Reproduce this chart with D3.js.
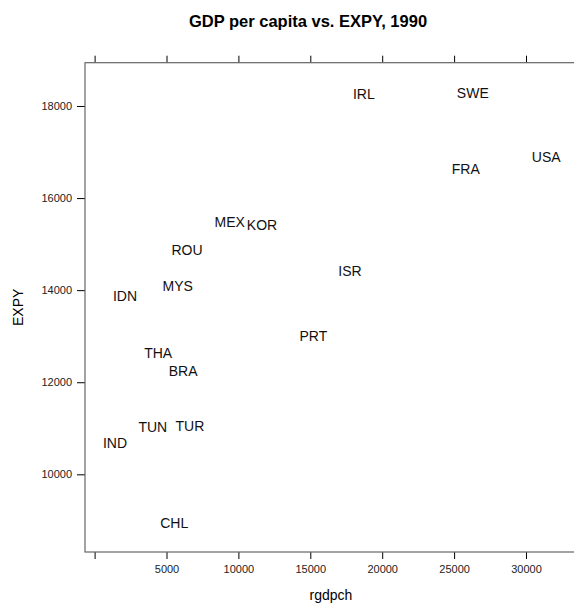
<!DOCTYPE html>
<html><head><meta charset="utf-8">
<script src="https://cdn.jsdelivr.net/npm/d3@7"></script>
<style>body{margin:0;background:#fff;} svg{display:block;font-family:"Liberation Sans",Arial,sans-serif;}</style>
</head><body>
<svg id="c" width="574" height="604"></svg>
<script>
const countries = ["IDN","MYS","ROU","MEX","KOR","IRL","SWE","USA","FRA","ISR","PRT","THA","BRA","TUN","TUR","IND","CHL"];
const rgdpch = [2110,5780,6430,9400,11640,18720,26300,31410,25810,17760,15210,4420,6160,4050,6630,1420,5540];
const expy = [13870,14090,14870,15470,15420,18250,18290,16890,16630,14420,13010,12630,12240,11030,11060,10690,8940];
const xTicks = [0,5000,10000,15000,20000,25000,30000];
const xTickLabels = ["","5000","10000","15000","20000","25000","30000"];
const yTicks = [10000,12000,14000,16000,18000];

(function(){
const svg = d3.select("#c");
const L=85, R=577, T=62.7, B=552;
const x = d3.scaleLinear().domain([-668,33547]).range([L,R]);
const y = d3.scaleLinear().domain([8313,18940]).range([B,T]);

svg.append("text").attr("x",308).attr("y",27).attr("text-anchor","middle")
  .attr("font-size","16.5px").attr("font-weight","bold").text("GDP per capita vs. EXPY, 1990");

const fmt = (d,i)=>xTickLabels[i];
const gB = svg.append("g").attr("transform",`translate(0,${B})`)
  .call(d3.axisBottom(x).tickValues(xTicks).tickFormat(fmt).tickSize(7).tickPadding(6));
const gT = svg.append("g").attr("transform",`translate(0,${T})`)
  .call(d3.axisTop(x).tickValues(xTicks).tickFormat("").tickSize(7));
const gL = svg.append("g").attr("transform",`translate(${L},0)`)
  .call(d3.axisLeft(y).tickValues(yTicks).tickFormat(d3.format("d")).tickSize(8).tickPadding(5));
[gB,gT,gL].forEach(g=>{
  g.select(".domain").remove();
  g.selectAll("line").attr("stroke","#000");
  g.selectAll("text").attr("font-size","11px").attr("fill","#222")
   .attr("font-family","'Liberation Sans',Arial,sans-serif");
});

svg.append("rect").attr("x",L).attr("y",T).attr("width",R-L).attr("height",B-T)
  .attr("fill","none").attr("stroke","#666").attr("stroke-width",1.2);

svg.append("g").selectAll("text").data(countries).join("text")
  .attr("x",(d,i)=>x(rgdpch[i])).attr("y",(d,i)=>y(expy[i]))
  .attr("text-anchor","middle").attr("dominant-baseline","central")
  .attr("font-size","14px").attr("fill","#111").text(d=>d);

svg.append("text").attr("x",(L+R)/2).attr("y",600).attr("text-anchor","middle")
  .attr("font-size","14px").text("rgdpch");
svg.append("text").attr("transform",`translate(23,${(T+B)/2}) rotate(-90)`)
  .attr("text-anchor","middle").attr("font-size","14px").text("EXPY");
})();
</script>
</body></html>
